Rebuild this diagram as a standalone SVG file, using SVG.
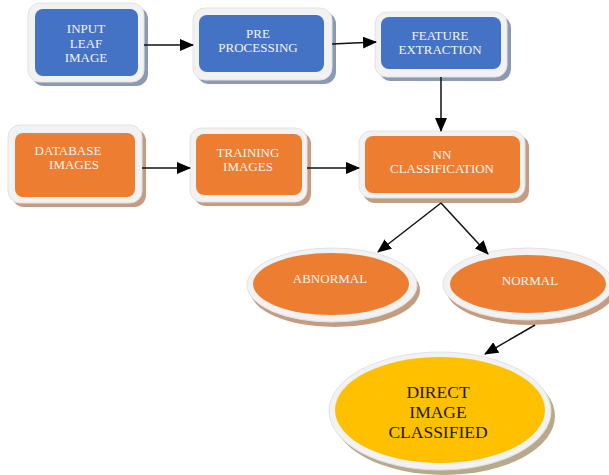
<svg xmlns="http://www.w3.org/2000/svg" width="609" height="475" viewBox="0 0 609 475">
<defs>
<marker id="ah" markerUnits="userSpaceOnUse" markerWidth="14" markerHeight="12" refX="13" refY="6" orient="auto">
<path d="M0,0 L14,6 L0,12 Z" fill="#000"/>
</marker>
</defs>
<style>
.frame{fill:#f2f2f2;stroke:#e2e2e2;stroke-width:1}
.shb{fill:#8a9ab2}
.sho{fill:#c49c82}
.shy{fill:#b8a98a}
.blue{fill:#4472c4}
.orange{fill:#ed7d31}
.yellow{fill:#ffc000}
.t{font-family:"Liberation Serif","Times New Roman",serif;font-size:13px;fill:#f4f4f4;text-anchor:middle}
.td{font-family:"Liberation Serif","Times New Roman",serif;font-size:17.5px;fill:#1a1a1a;text-anchor:middle}
.c{stroke:#111;stroke-width:1.5;fill:none;marker-end:url(#ah)}
</style>
<rect width="609" height="475" fill="#fff"/>
<g id="input">
<rect class="shb" x="32" y="7" width="116" height="79" rx="12"/>
<rect class="frame" x="28" y="3" width="116" height="79" rx="12"/>
<rect class="blue" x="35" y="9" width="103" height="67" rx="8"/>
<text class="t" x="86" y="33">INPUT</text>
<text class="t" x="86" y="47.5">LEAF</text>
<text class="t" x="86" y="62">IMAGE</text>
</g>
<g id="pre">
<rect class="shb" x="197" y="12" width="139" height="72" rx="12"/>
<rect class="frame" x="193" y="8" width="139" height="72" rx="12"/>
<rect class="blue" x="199" y="15" width="125" height="57" rx="8"/>
<text class="t" x="258" y="37.5">PRE</text>
<text class="t" x="258" y="52">PROCESSING</text>
</g>
<g id="feature">
<rect class="shb" x="379" y="16" width="132" height="65" rx="12"/>
<rect class="frame" x="375" y="12" width="132" height="65" rx="12"/>
<rect class="blue" x="381" y="17" width="120" height="52" rx="8"/>
<text class="t" x="440" y="39.5">FEATURE</text>
<text class="t" x="440" y="54">EXTRACTION</text>
</g>
<g id="database">
<rect class="sho" x="12" y="129" width="134" height="78" rx="12"/>
<rect class="frame" x="8" y="125" width="134" height="78" rx="12"/>
<rect class="orange" x="15" y="133" width="120" height="64" rx="8"/>
<text class="t" x="68" y="155">DATABASE</text>
<text class="t" x="74" y="168.5">IMAGES</text>
</g>
<g id="training">
<rect class="sho" x="194" y="132" width="117" height="74" rx="12"/>
<rect class="frame" x="190" y="128" width="117" height="74" rx="12"/>
<rect class="orange" x="196" y="134" width="106" height="61" rx="8"/>
<text class="t" x="248" y="156.5">TRAINING</text>
<text class="t" x="248" y="171">IMAGES</text>
</g>
<g id="nn">
<rect class="sho" x="363" y="135" width="166" height="68" rx="12"/>
<rect class="frame" x="359" y="131" width="166" height="67" rx="12"/>
<rect class="orange" x="365" y="136" width="155" height="57" rx="8"/>
<text class="t" x="442" y="158.5">NN</text>
<text class="t" x="442" y="173">CLASSIFICATION</text>
</g>
<g id="abnormal">
<ellipse class="sho" cx="335" cy="290" rx="85" ry="37"/>
<ellipse class="frame" cx="332" cy="285" rx="85" ry="37"/>
<ellipse class="orange" cx="331" cy="284" rx="78" ry="31"/>
<text class="t" x="330" y="282.5">ABNORMAL</text>
</g>
<g id="normal">
<ellipse class="sho" cx="531" cy="289" rx="85" ry="36"/>
<ellipse class="frame" cx="528" cy="284" rx="85" ry="36"/>
<ellipse class="orange" cx="528" cy="284" rx="78" ry="29"/>
<text class="t" x="530" y="284.5">NORMAL</text>
</g>
<g id="direct">
<ellipse class="shy" cx="444" cy="416" rx="111" ry="59"/>
<ellipse class="frame" cx="440" cy="411" rx="111" ry="59"/>
<ellipse class="yellow" cx="440" cy="410" rx="105" ry="53"/>
<text class="td" x="438" y="398">DIRECT</text>
<text class="td" x="438" y="418">IMAGE</text>
<text class="td" x="438" y="438">CLASSIFIED</text>
</g>
<g id="connectors">
<line class="c" x1="144" y1="45" x2="193" y2="45"/>
<line class="c" x1="332" y1="44" x2="376" y2="42"/>
<line class="c" x1="441" y1="77" x2="441" y2="131"/>
<line class="c" x1="142" y1="168" x2="190" y2="168"/>
<line class="c" x1="307" y1="168" x2="359" y2="168"/>
<line class="c" x1="441" y1="203" x2="378" y2="252"/>
<line class="c" x1="441" y1="203" x2="488" y2="254"/>
<line class="c" x1="535" y1="325" x2="485" y2="354"/>
</g>
</svg>
